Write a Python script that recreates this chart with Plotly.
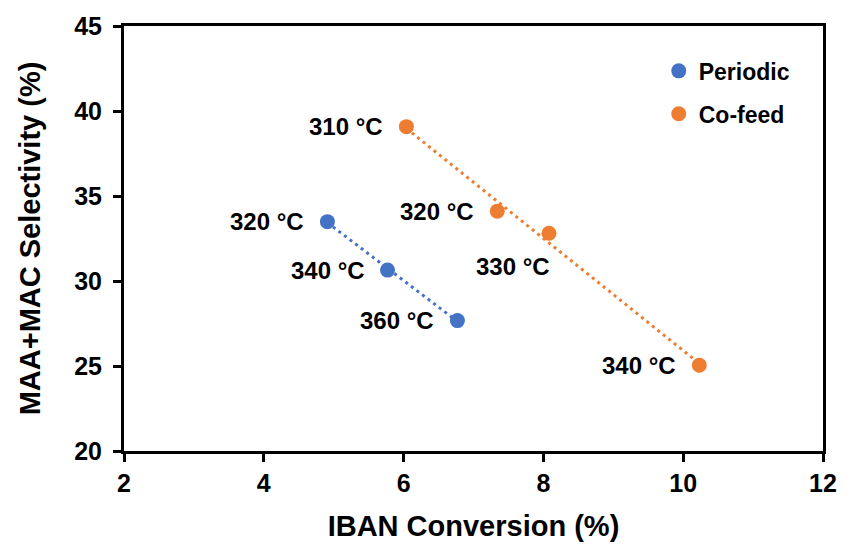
import numpy as np
import plotly.graph_objects as go

# IBAN conversion (%) vs MAA+MAC selectivity (%)
periodic_temps = ["320 °C", "340 °C", "360 °C"]
periodic_conv = [4.91, 5.77, 6.77]
periodic_sel = [33.49, 30.64, 27.67]

cofeed_temps = ["310 °C", "320 °C", "330 °C", "340 °C"]
cofeed_conv = [6.04, 7.34, 8.08, 10.23]
cofeed_sel = [39.08, 34.11, 32.81, 25.05]

x_ticks = [2, 4, 6, 8, 10, 12]
y_ticks = [20, 25, 30, 35, 40, 45]

BLUE = "#4472C4"
ORANGE = "#ED7D31"
FONT = "Liberation Sans, Arial, sans-serif"

fig = go.Figure()


def add_series(name, xs, ys, color):
    # linear trendline over the span of the data
    slope, intercept = np.polyfit(xs, ys, 1)
    tx = np.array([min(xs), max(xs)])
    fig.add_trace(go.Scatter(
        x=tx, y=slope * tx + intercept, mode="lines",
        line=dict(color=color, width=3, dash="3px,4px"),
        showlegend=False, hoverinfo="skip"))
    fig.add_trace(go.Scatter(
        x=xs, y=ys, mode="markers", name=name, legendgroup=name,
        marker=dict(color=color, size=15)))


add_series("Periodic", periodic_conv, periodic_sel, BLUE)
add_series("Co-feed", cofeed_conv, cofeed_sel, ORANGE)

label_font = dict(family=FONT, size=24, color="black", weight="bold")

for t, x, y in zip(periodic_temps, periodic_conv, periodic_sel):
    fig.add_annotation(x=x, y=y, text=t, showarrow=False, xanchor="right",
                       yanchor="middle", xshift=-21, font=label_font)

for t, x, y in zip(cofeed_temps, cofeed_conv, cofeed_sel):
    if t == "330 °C":
        fig.add_annotation(x=x, y=y, text=t, showarrow=False, xanchor="right",
                           yanchor="middle", xshift=3, yshift=-33, font=label_font)
    else:
        fig.add_annotation(x=x, y=y, text=t, showarrow=False, xanchor="right",
                           yanchor="middle", xshift=-21, font=label_font)

axis_common = dict(
    showline=True, linecolor="black", linewidth=3, mirror=True,
    ticks="outside", ticklen=8, tickwidth=3, tickcolor="black",
    showgrid=False, zeroline=False,
    tickfont=dict(family=FONT, size=25, color="black", weight="bold"),
)

fig.update_xaxes(
    range=[2, 12], tickvals=x_ticks,
    title=dict(text="IBAN Conversion (%)", standoff=20,
               font=dict(family=FONT, size=29, color="black", weight="bold")),
    **axis_common)
fig.update_yaxes(
    range=[20, 45], tickvals=y_ticks, ticklabelstandoff=6,
    title=dict(text="MAA+MAC Selectivity (%)", standoff=26,
               font=dict(family=FONT, size=29, color="black", weight="bold")),
    **axis_common)

fig.update_layout(
    width=849, height=549,
    margin=dict(l=124, r=18, t=26, b=94),
    plot_bgcolor="white", paper_bgcolor="white",
    legend=dict(x=0.765, y=0.945, xanchor="left", yanchor="top",
                font=dict(family=FONT, size=23, color="black", weight="bold"),
                bgcolor="rgba(0,0,0,0)", tracegroupgap=10, itemwidth=30),
    showlegend=True,
)

fig.write_html("out.html")
